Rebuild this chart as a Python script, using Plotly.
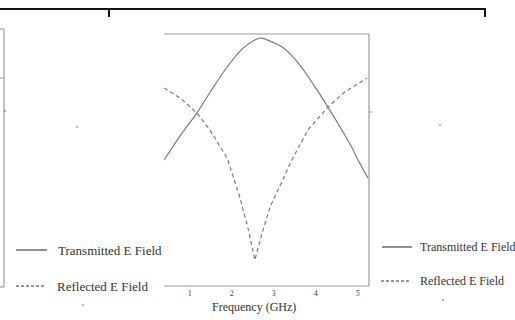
import plotly.graph_objects as go

# ---- data ----
trans_freq = [0.39, 0.77, 1.17, 1.48, 1.89, 2.27, 2.60, 2.72, 2.79, 3.20, 3.58, 3.98, 4.29, 4.62, 4.89, 4.98, 5.24]
trans_val  = [0.50, 0.596, 0.687, 0.768, 0.869, 0.944, 0.980, 0.984, 0.980, 0.948, 0.885, 0.790, 0.710, 0.619, 0.540, 0.508, 0.429]

refl_freq = [0.39, 0.77, 1.17, 1.48, 1.89, 2.00, 2.19, 2.38, 2.55, 2.72, 2.91, 3.10, 3.43, 3.81, 4.29, 4.69, 5.22]
refl_val  = [0.786, 0.746, 0.687, 0.619, 0.508, 0.448, 0.353, 0.234, 0.103, 0.210, 0.313, 0.381, 0.500, 0.619, 0.710, 0.770, 0.825]

x_ticks = [1, 2, 3, 4, 5]
x_tick_labels = ["1", "2", "3", "4", "5"]
legend_names = ["Transmitted E Field", "Reflected E Field"]
x_title = "Frequency (GHz)"

W, H = 515, 320
FONT = "Liberation Serif, Times New Roman, serif"

def px(x):
    return x / W

def py(y):
    return 1 - y / H

fig = go.Figure()
fig.add_trace(go.Scatter(x=trans_freq, y=trans_val, mode="lines", name=legend_names[0],
                         line=dict(color="#7a7a7a", width=1.2, shape="spline", smoothing=1.0),
                         showlegend=False))
fig.add_trace(go.Scatter(x=refl_freq, y=refl_val, mode="lines", name=legend_names[1],
                         line=dict(color="#7a7a7a", width=1.2, dash="4px,3px"),
                         showlegend=False))

shapes = []
def line(x0, y0, x1, y1, color="#999999", width=1.2, dash="solid"):
    shapes.append(dict(type="line", xref="paper", yref="paper",
                       x0=px(x0), y0=py(y0), x1=px(x1), y1=py(y1),
                       line=dict(color=color, width=width, dash=dash)))

# central frame (top, right, bottom)
line(164, 34, 369, 34)
line(369, 34, 369, 286)
line(164, 286, 369, 286)
line(369, 112, 372, 112, width=1)

# top black rule with drop ticks
line(0, 9, 486, 9, color="#111111", width=2.2)
line(109, 8, 109, 17, color="#111111", width=2)
line(485, 8, 485, 17, color="#111111", width=2)

# partial left frame
line(0, 29, 4, 29)
line(4, 29, 4, 287)
line(0, 287, 4, 287)
line(0, 78, 4, 78, width=1)

# legend sample lines
line(16, 250, 47, 250, color="#333333", width=1.1)
line(16, 286, 44, 286, color="#333333", width=1.1, dash="3px,2px")
line(382, 247, 412, 247, color="#333333", width=1.1)
line(381, 281, 410, 281, color="#333333", width=1.1, dash="3px,2px")

# scan specks
for (sx, sy) in [(77, 127), (440, 125), (83, 305), (443, 300), (5, 111)]:
    shapes.append(dict(type="circle", xref="paper", yref="paper",
                       x0=px(sx - 0.8), x1=px(sx + 0.8), y0=py(sy - 0.8), y1=py(sy + 0.8),
                       line=dict(width=0), fillcolor="#555555"))

annotations = []
def text(t, x, y, size, anchor="left"):
    annotations.append(dict(text=t, xref="paper", yref="paper", x=px(x), y=py(y),
                            xanchor=anchor, yanchor="middle", showarrow=False,
                            font=dict(family=FONT, size=size, color="#333333")))

text(legend_names[0], 56, 250, 13)
text(legend_names[1], 55, 286, 13)
text(legend_names[0], 418, 247, 12)
text(legend_names[1], 418, 281, 12)
text(x_title, 254, 307, 12, anchor="center")

fig.update_layout(
    width=W, height=H,
    margin=dict(l=0, r=0, t=0, b=0),
    paper_bgcolor="white", plot_bgcolor="white",
    shapes=shapes, annotations=annotations,
    xaxis=dict(domain=[px(164), px(369)], range=[0.386, 5.267],
               tickvals=x_ticks, ticktext=x_tick_labels,
               showgrid=False, zeroline=False, showline=False, ticks="",
               tickfont=dict(family=FONT, size=8, color="#444444"),
               ticklabelstandoff=1),
    yaxis=dict(domain=[py(286), py(34)], range=[0, 1],
               showgrid=False, zeroline=False, showline=False,
               showticklabels=False, ticks=""),
)

fig.write_html("out.html", config={"displayModeBar": False},
               post_script="document.body.style.margin='0';document.body.style.overflow='hidden';")
